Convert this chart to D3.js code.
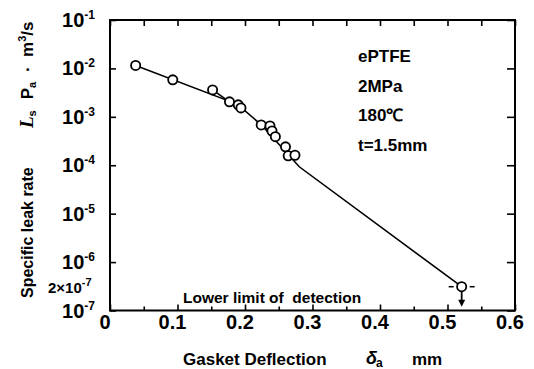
<!DOCTYPE html>
<html><head><meta charset="utf-8">
<script src="https://cdn.jsdelivr.net/npm/d3@7"></script>
<style>
html,body{margin:0;padding:0;background:#fff;}
svg text{font-family:"Liberation Sans",Arial,sans-serif;fill:#000;white-space:pre;}
</style></head>
<body><svg id="c" width="534" height="369"></svg>
<script>
// ---- data ----
const deflection = [0.038, 0.093, 0.152, 0.177, 0.190, 0.194, 0.224, 0.237, 0.240, 0.245, 0.260, 0.264, 0.274];
const leakRate   = [1.15e-2, 5.8e-3, 3.6e-3, 2.04e-3, 1.77e-3, 1.53e-3, 6.8e-4, 6.5e-4, 5.1e-4, 3.9e-4, 2.4e-4, 1.57e-4, 1.61e-4];
const limitDeflection = [0.521];
const limitLeakRate = [3.1e-7];
const fitX = [0.038, 0.189, 0.224, 0.2804, 0.521];
const fitY = [1.15e-2, 1.81e-3, 6.84e-4, 9.3e-5, 3.1e-7];
const branchX = [0.152, 0.177];
const branchY = [3.6e-3, 2.04e-3];
const xTickValues = [0, 0.1, 0.2, 0.3, 0.4, 0.5, 0.6];
const xTickLabels = ["0", "0.1", "0.2", "0.3", "0.4", "0.5", "0.6"];
const xMinorTicks = [0.05, 0.15, 0.25, 0.35, 0.45, 0.55];
const yTickValues = [1e-1, 1e-2, 1e-3, 1e-4, 1e-5, 1e-6, 1e-7];
const yTickExponents = ["-1", "-2", "-3", "-4", "-5", "-6", "-7"];
const yExtraTick = [3.1e-7];
const yExtraLabel = ["2×10", "-7"];
const infoLines = ["ePTFE", "2MPa", "180℃", "t=1.5mm"];
const limitText = "Lower limit of  detection";

// ---- layout ----
const svg = d3.select("#c");
const L = 110, R = 515, T = 20, B = 310.5;
const x = d3.scaleLinear().domain([0, 0.6]).range([L, R]);
const y = d3.scaleLog().domain([1e-7, 1e-1]).range([B, T]);

// frame
svg.append("rect").attr("x", L).attr("y", T).attr("width", R - L).attr("height", B - T)
  .attr("fill", "none").attr("stroke", "#000").attr("stroke-width", 2);

function styleAxis(g){ g.select(".domain").remove(); g.selectAll("line").attr("stroke","#000").attr("stroke-width",1.6); g.selectAll("text").remove(); }

// bottom ticks
svg.append("g").attr("transform", `translate(0,${B})`)
  .call(d3.axisTop(x).tickValues(xTickValues).tickSize(6).tickFormat("")).call(styleAxis);
svg.append("g").attr("transform", `translate(0,${B})`)
  .call(d3.axisTop(x).tickValues(xMinorTicks).tickSize(4).tickFormat("")).call(styleAxis);
// top ticks
svg.append("g").attr("transform", `translate(0,${T})`)
  .call(d3.axisBottom(x).tickValues(xTickValues.concat(xMinorTicks)).tickSize(6).tickFormat("")).call(styleAxis);
// left ticks
svg.append("g").attr("transform", `translate(${L},0)`)
  .call(d3.axisRight(y).tickValues(yTickValues).tickSize(6).tickFormat("")).call(styleAxis);
// right ticks
svg.append("g").attr("transform", `translate(${R},0)`)
  .call(d3.axisLeft(y).tickValues(yTickValues).tickSize(8).tickFormat("")).call(styleAxis);

// x tick labels
svg.append("g").selectAll("text").data(xTickValues).join("text")
  .attr("x", d => x(d) - 5).attr("y", 329)
  .attr("text-anchor", "middle").attr("font-size", 20).attr("font-weight", "bold")
  .text((d, i) => xTickLabels[i]);

// y tick labels
const yl = svg.append("g").selectAll("text").data(yTickValues).join("text")
  .attr("x", 95).attr("y", d => y(d) + 7)
  .attr("text-anchor", "end").attr("font-size", 20).attr("font-weight", "bold");
yl.append("tspan").text("10");
yl.append("tspan").attr("font-size", 12).attr("dy", -8).text((d, i) => yTickExponents[i]);

const ye = svg.append("text").attr("x", 48).attr("y", y(yExtraTick[0]) + 6)
  .attr("font-size", 15).attr("font-weight", "bold");
ye.append("tspan").text(yExtraLabel[0]);
ye.append("tspan").attr("font-size", 11).attr("dy", -7).text(yExtraLabel[1]);

// axis titles
svg.append("text").attr("x", 183).attr("y", 365).attr("font-size", 17).attr("font-weight", "bold").text("Gasket Deflection");
svg.append("text").attr("x", 366).attr("y", 364).attr("font-size", 18).attr("font-style", "italic")
  .attr("font-family", "Liberation Serif").attr("font-weight", "bold").text("δ");
svg.append("text").attr("x", 376).attr("y", 367).attr("font-size", 12)
  .attr("font-family", "Liberation Serif").attr("font-weight", "bold").text("a");
svg.append("text").attr("x", 412).attr("y", 365).attr("font-size", 17).attr("font-weight", "bold").text("mm");

const yt = svg.append("text").attr("transform", "translate(33,298) rotate(-90)").attr("font-size", 16).attr("font-weight", "bold");
yt.append("tspan").text("Specific leak rate");
yt.append("tspan").attr("x", 170).attr("font-style", "italic").attr("font-family", "Liberation Serif").attr("font-size", 19).text("L");
yt.append("tspan").attr("dy", 3).attr("font-size", 11).text("s");
yt.append("tspan").attr("dx", 11).attr("dy", -3).attr("font-size", 17).text("P");
yt.append("tspan").attr("dy", 3).attr("font-size", 11).text("a");
yt.append("tspan").attr("dx", 5).attr("dy", -3).attr("font-size", 17).text(" ·  m");
yt.append("tspan").attr("dy", -7).attr("font-size", 11).text("3");
yt.append("tspan").attr("dy", 7).attr("font-size", 17).text("/s");

// info text
svg.append("g").selectAll("text").data(infoLines).join("text")
  .attr("x", 358).attr("y", (d, i) => 62 + i * 29.5)
  .attr("font-size", 17).attr("font-weight", "bold").text(d => d);

svg.append("text").attr("x", 183).attr("y", 302.5).attr("font-size", 15.5).attr("font-weight", "bold").text(limitText);

// fit lines
const line = d3.line().x(d => x(d[0])).y(d => y(d[1]));
svg.append("path").attr("d", line(fitX.map((v, i) => [v, fitY[i]])))
  .attr("fill", "none").attr("stroke", "#000").attr("stroke-width", 1.6);
svg.append("path").attr("d", line(branchX.map((v, i) => [v, branchY[i]])))
  .attr("fill", "none").attr("stroke", "#000").attr("stroke-width", 1.6);

// points
svg.append("g").selectAll("circle").data(deflection).join("circle")
  .attr("cx", d => x(d)).attr("cy", (d, i) => y(leakRate[i])).attr("r", 4.6)
  .attr("fill", "#fff").attr("stroke", "#000").attr("stroke-width", 1.8);

// detection-limit point
const lx = x(limitDeflection[0]), ly = y(limitLeakRate[0]);
svg.append("line").attr("x1", lx - 13).attr("x2", lx - 8).attr("y1", ly).attr("y2", ly).attr("stroke", "#000").attr("stroke-width", 1.5);
svg.append("line").attr("x1", lx + 8).attr("x2", lx + 13).attr("y1", ly).attr("y2", ly).attr("stroke", "#000").attr("stroke-width", 1.5);
svg.append("line").attr("x1", lx).attr("x2", lx).attr("y1", ly + 4).attr("y2", ly + 14).attr("stroke", "#000").attr("stroke-width", 1.8);
svg.append("path").attr("d", `M${lx - 3.5},${ly + 13}L${lx + 3.5},${ly + 13}L${lx},${ly + 20}Z`).attr("fill", "#000");
svg.append("circle").attr("cx", lx).attr("cy", ly).attr("r", 4.6)
  .attr("fill", "#fff").attr("stroke", "#000").attr("stroke-width", 1.8);
</script></body></html>
